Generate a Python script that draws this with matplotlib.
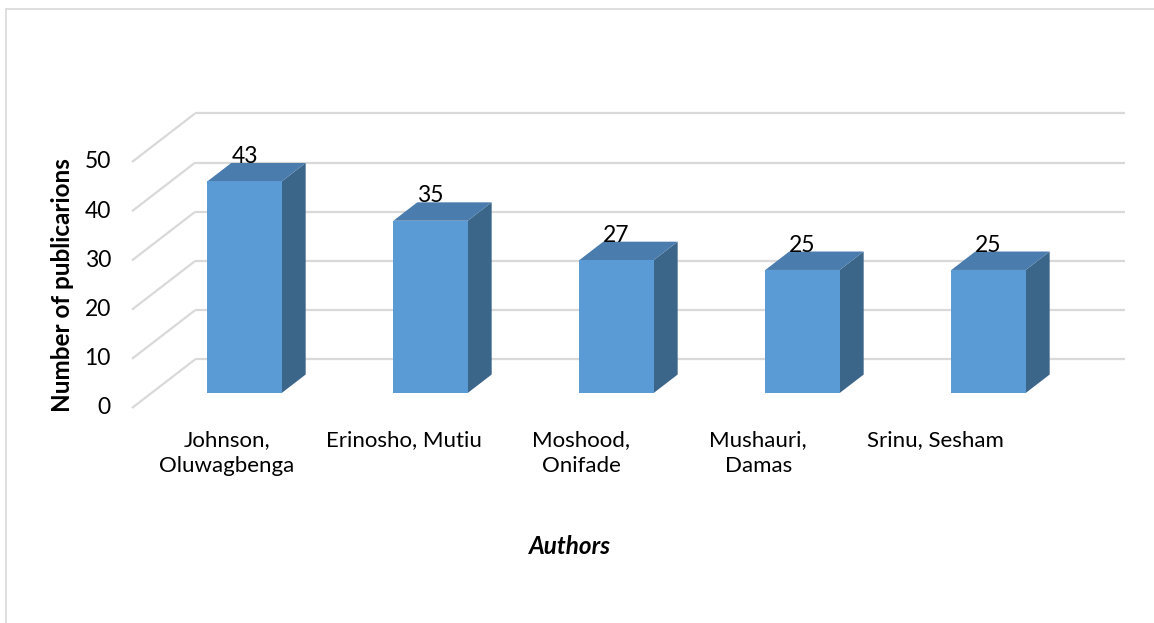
import matplotlib.pyplot as plt
from matplotlib.patches import Polygon, Rectangle

plt.rcParams['font.family'] = ['Lato', 'DejaVu Sans']

# Data
authors = ['Johnson,\nOluwagbenga', 'Erinosho, Mutiu', 'Moshood,\nOnifade',
           'Mushauri,\nDamas', 'Srinu, Sesham']
publications = [43, 35, 27, 25, 25]
y_ticks = [0, 10, 20, 30, 40, 50]

# Oblique projection of the depth axis (category units, value units)
DX = 0.3387
DV = 9.86
d_front, d_back = 0.31, 0.69     # bar depth inside the wall box
bar_w = 0.4

c_front = '#5b9bd5'
c_top = '#4a7cad'
c_side = '#3b6589'
c_grid = '#d9d9d9'


def proj(x, v, d):
    return (x + d * DX, v + d * DV)


fig = plt.figure(figsize=(11.54, 6.23), dpi=100)
ax = fig.add_axes([0, 0, 1, 1])
ax.set_xlim(-132 / 186, (1154 - 132) / 186)
ax.set_ylim((408 - 623) / 4.92, 408 / 4.92)
ax.axis('off')

n = len(authors)

# Back wall and side wall gridlines
for v in y_ticks:
    x0, y0 = proj(0, v, 1)
    x1, y1 = proj(n, v, 1)
    ax.plot([x0, x1], [y0, y1], color=c_grid, lw=1.6, solid_capstyle='butt', zorder=1)
    xa, ya = proj(0, v, 0)
    ax.plot([xa, x0], [ya, y0], color=c_grid, lw=1.6, solid_capstyle='butt', zorder=1)
    ax.text(-0.113, v, str(v), ha='right', va='center', fontsize=16.5, color='black')

# 3D columns
for i, val in enumerate(publications):
    xl = i + 0.5 - bar_w / 2
    xr = i + 0.5 + bar_w / 2
    front = [proj(xl, 0, d_front), proj(xr, 0, d_front),
             proj(xr, val, d_front), proj(xl, val, d_front)]
    top = [proj(xl, val, d_front), proj(xr, val, d_front),
           proj(xr, val, d_back), proj(xl, val, d_back)]
    side = [proj(xr, 0, d_front), proj(xr, 0, d_back),
            proj(xr, val, d_back), proj(xr, val, d_front)]
    ax.add_patch(Polygon(side, closed=True, facecolor=c_side, edgecolor='none', zorder=3))
    ax.add_patch(Polygon(top, closed=True, facecolor=c_top, edgecolor='none', zorder=3))
    ax.add_patch(Polygon(front, closed=True, facecolor=c_front, edgecolor='none', zorder=4))
    lx = i + 0.5 + d_front * DX
    ly = val + d_back * DV
    ax.text(lx, ly, str(val), ha='center', va='baseline', fontsize=16.5, zorder=5)

# Category labels under the floor
for i, name in enumerate(authors):
    ax.text(0.511 + i * 0.952, -4.4, name, ha='center', va='top',
            fontsize=16, linespacing=1.4)

fig.text(570 / 1154, 1 - 546 / 623, 'Authors', ha='center', va='center',
         fontsize=17.5, fontweight='bold', fontstyle='italic')
fig.text(63 / 1154, 1 - 285 / 623, 'Number of publicarions', ha='center', va='center',
         rotation=90, fontsize=17.5, fontweight='bold')

# Chart area border
fig.add_artist(Rectangle((6 / 1154, -0.1), 1.0, 1.1 - 9 / 623, transform=fig.transFigure,
                         fill=False, edgecolor=c_grid, lw=1.2))

fig.savefig('out.png', dpi=100)
